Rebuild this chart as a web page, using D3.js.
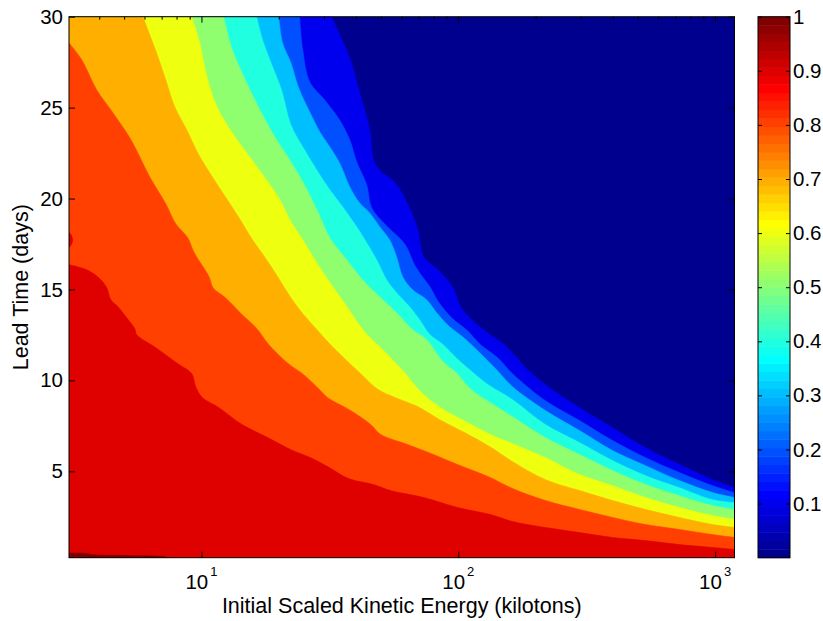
<!DOCTYPE html>
<html><head><meta charset="utf-8">
<script src="https://cdn.jsdelivr.net/npm/d3@7"></script>
<style>
html,body{margin:0;padding:0;background:#fff;}
svg{display:block;font-family:"Liberation Sans",Arial,Helvetica,sans-serif;}
</style></head><body>
<svg id="chart" width="823" height="621"></svg>
<script>
// ---------------- DATA ----------------
// Axis ticks
const energyTickValues = [10, 100, 1000];
const energyTickExponents = ["1", "2", "3"];
const energyMinorTicks = [4,5,6,7,8,9,20,30,40,50,60,70,80,90,200,300,400,500,600,700,800,900];
const leadTickValues = [5, 10, 15, 20, 25, 30];
const colorTickValues = [0.1,0.2,0.3,0.4,0.5,0.6,0.7,0.8,0.9,1];
const energyDomain = [3.05, 1190];
const leadDomain = [0.25, 30];
const colorDomain = [0, 1];

// Contour levels and their boundaries: [energy (kilotons), lead time (days)]
const contourLevels = [0.1,0.2,0.3,0.4,0.5,0.6,0.7,0.8,0.9,1.0];

const level01 = [[32.1,30],[34.8,28.9],[38.1,27.6],[41.3,25.8],[45.2,23.8],[46.8,22.1],[49.9,21.5],[56.5,20.9],[63.5,19.7],[69.5,18.3],[73.3,16.8],[83.1,16.1],[95.0,15.15],[102.1,14.05],[112.7,13.34],[133.6,12.5],[150,12.0],[162.5,11.5],[182.7,10.7],[218.6,9.76],[296.6,8.5],[398.7,7.4],[536,6.3],[726,5.37],[977,4.54],[1190,4.1]];
const level02 = [[24.1,30],[24.8,28.17],[26.4,26.41],[30.2,25.42],[34.5,24.32],[37.8,23.23],[40.2,22.02],[44.0,20.75],[46.0,19.49],[52.1,18.55],[61.8,17.51],[68.2,16.25],[78.0,15.09],[83.1,14.38],[94.2,13.45],[108.7,12.73],[122.1,11.96],[142.2,11.25],[162.5,10.37],[218.6,8.88],[296.6,7.79],[398.7,6.69],[536,5.75],[726,4.93],[977,4.21],[1190,3.83]];
const level03 = [[20.0,30],[20.7,28.55],[22.3,27.46],[23.9,26.08],[26.4,24.76],[28.9,23.66],[31.6,22.84],[34.5,21.96],[37.8,20.64],[41.3,19.76],[45.2,19.21],[49.4,18.45],[54.0,17.73],[57.5,16.80],[60.7,15.70],[66.4,14.98],[75.3,14.43],[82.3,13.72],[92.5,12.95],[103.9,12.40],[117.8,11.69],[132.4,10.97],[140.9,10.59],[162.7,9.65],[218.6,8.34],[296.6,7.24],[398.7,6.14],[536,5.31],[726,4.49],[977,3.83],[1190,3.56]];
const level04 = [[16.4,30],[17.3,28.72],[18.8,27.35],[20.5,25.97],[22.3,24.05],[25.2,22.68],[28.4,21.47],[31.6,20.48],[35.5,19.54],[40.2,18.45],[44.0,17.57],[48.1,16.63],[52.6,15.53],[57.5,14.82],[64.6,14.05],[70.7,13.34],[77.3,12.54],[86.9,11.99],[98.5,11.22],[110.7,10.59],[130.0,9.79],[162.7,8.94],[218.6,7.57],[296.6,6.58],[398.7,5.59],[536,4.76],[726,4.10],[977,3.44],[1190,3.28]];
const level05 = [[12.2,30],[13.2,28.17],[15.0,26.36],[16.9,24.87],[18.9,23.61],[22.3,22.02],[25.2,20.75],[28.4,19.27],[31.6,17.84],[36.8,16.63],[42.4,15.53],[49.4,14.60],[57.5,13.72],[66.4,12.79],[75.3,12.24],[86.9,11.05],[98.5,10.40],[111.7,9.52],[137.3,8.66],[162.7,8.0],[218.6,6.85],[296.6,5.92],[398.7,5.04],[536,4.27],[726,3.66],[977,3.12],[1190,2.90]];
const level06 = [[9.17,30],[9.85,28.55],[10.5,26.69],[11.5,25.04],[13.2,23.61],[15.4,22.29],[17.9,21.03],[20.2,19.93],[22.3,18.72],[24.8,17.73],[28.1,16.47],[32.7,15.09],[37.1,13.99],[42.8,12.73],[51.7,11.58],[61.3,10.48],[72.0,9.32],[85.3,8.50],[104.9,7.79],[133.6,7.02],[162.7,6.52],[218.6,5.75],[296.6,4.82],[398.7,4.21],[536,3.56],[726,3.01],[977,2.57],[1190,2.35]];
const level07 = [[5.91,30],[6.58,28.28],[7.20,26.69],[7.87,25.04],[8.77,23.77],[9.67,22.51],[10.9,21.30],[12.4,20.09],[14.1,18.88],[15.8,17.73],[17.6,16.80],[19.8,15.70],[22.3,14.54],[25.0,13.61],[28.4,12.73],[31.8,11.96],[35.8,11.25],[41.7,10.37],[48.5,9.52],[57.0,9.05],[69.4,8.56],[84.6,7.84],[105.8,7.13],[132.4,6.36],[162.7,5.53],[218.6,4.54],[296.6,3.94],[398.7,3.39],[536,2.90],[726,2.46],[977,2.07],[1190,1.91]];
const level08 = [[3.05,28.55],[3.42,27.62],[3.91,25.97],[4.44,24.87],[5.26,23.34],[5.75,22.29],[6.29,21.19],[7.26,19.71],[7.94,18.61],[8.84,17.84],[9.33,17.07],[10.7,15.70],[11.1,15.09],[12.4,14.54],[14.4,13.61],[16.3,12.90],[18.3,11.96],[20.5,11.25],[22.3,10.81],[25.0,10.31],[29.1,9.43],[31.0,9.05],[38.1,8.34],[45.6,7.57],[49.9,7.02],[63.5,6.47],[80.1,5.92],[99.4,5.37],[133.6,4.65],[162.7,4.05],[218.6,3.39],[296.6,2.90],[398.7,2.46],[536,2.07],[726,1.80],[977,1.52],[1190,1.36]];
const level09 = [[3.05,16.36],[3.58,16.08],[4.02,15.59],[4.28,15.09],[4.44,14.43],[4.77,14.0],[5.08,13.50],[5.50,12.84],[5.60,12.51],[6.64,11.80],[8.09,10.92],[9.17,10.37],[9.50,9.65],[10.1,9.05],[11.7,8.50],[14.4,7.57],[17.8,6.91],[22.3,6.19],[26.6,5.75],[31.0,5.26],[37.4,4.60],[46.8,4.27],[54.5,3.94],[73.3,3.56],[99.4,3.01],[133.6,2.62],[162.7,2.24],[218.6,1.91],[296.6,1.63],[398.7,1.36],[536,1.19],[726,0.97],[977,0.81],[1190,0.70]];
const level09Island = [[3.05,18.17],[3.13,17.95],[3.16,17.68],[3.10,17.40],[3.05,17.29]];
const level10 = [[3.05,0.50],[3.61,0.48],[3.74,0.42],[5.03,0.37],[7.20,0.30],[7.33,0.25]];

const contourBoundaries = [level01, level02, level03, level04, level05, level06, level07, level08, level09, level10];

// ---------------- LAYOUT ----------------
const plot = {left: 69, right: 734.5, top: 16.7, bottom: 557.7};
const cbar = {left: 758, right: 790, top: 16.7, bottom: 557.7};
const tickFont = 20.5, labelFont = 21.5;

const svg = d3.select("#chart");
const x = d3.scaleLog().domain(energyDomain).range([plot.left, plot.right]);
const y = d3.scaleLinear().domain(leadDomain).range([plot.bottom, plot.top]);
const c = d3.scaleLinear().domain(colorDomain).range([cbar.bottom, cbar.top]);

// MATLAB jet(64), 0-based index
function jet64(i) {
  const u = k => (k >= 1 && k <= 16) ? k / 16 : (k >= 17 && k <= 31) ? 1 : (k >= 32 && k <= 47) ? (48 - k) / 16 : 0;
  const j = i + 1;
  return d3.rgb(Math.round(u(j - 24) * 255), Math.round(u(j - 8) * 255), Math.round(u(j + 8) * 255)).formatHex();
}
const levelColor = v => jet64(Math.max(0, Math.min(63, Math.floor(v * 64 + 1e-9))));

// ---------------- CONTOUR FILL ----------------
svg.append("defs").append("clipPath").attr("id", "plotclip")
  .append("rect").attr("x", plot.left).attr("y", plot.top)
  .attr("width", plot.right - plot.left).attr("height", plot.bottom - plot.top);

const gPlot = svg.append("g").attr("clip-path", "url(#plotclip)");
gPlot.append("rect").attr("x", plot.left).attr("y", plot.top)
  .attr("width", plot.right - plot.left).attr("height", plot.bottom - plot.top)
  .attr("fill", levelColor(0));

const [eMin, eMax] = energyDomain, [tMin, tMax] = leadDomain;
function cornersFor(pts) {
  const corners = [];
  const last = pts[pts.length - 1], first = pts[0];
  if (last[0] >= eMax * 0.999) corners.push([eMax, tMin]);
  corners.push([eMin, tMin]);
  if (first[1] >= tMax - 1e-6 && first[0] > eMin) corners.push([eMin, tMax]);
  return corners;
}
const smoothLine = d3.line().x(d => x(d[0])).y(d => y(d[1])).curve(d3.curveCatmullRom.alpha(0.5));
const regionPath = pts => smoothLine(pts) + cornersFor(pts).map(p => `L${x(p[0])},${y(p[1])}`).join("") + "Z";

contourLevels.forEach((lv, i) => {
  gPlot.append("path").attr("d", regionPath(contourBoundaries[i]))
    .attr("fill", levelColor(lv)).attr("stroke", levelColor(lv)).attr("stroke-width", 0.6);
  if (lv === 0.9) {
    gPlot.append("path").attr("d", smoothLine(level09Island) + "Z").attr("fill", levelColor(lv));
  }
});

// ---------------- AXES ----------------
const axisColor = "#000";
function styleAxis(g) {
  g.select(".domain").remove();
  g.selectAll(".tick line").attr("stroke", axisColor);
  g.selectAll(".tick text").attr("fill", axisColor).attr("font-size", tickFont)
    .attr("font-family", '"Liberation Sans",Arial,sans-serif');
}

// Left y axis
svg.append("g").attr("transform", `translate(${plot.left},0)`)
  .call(d3.axisLeft(y).tickValues(leadTickValues).tickSize(-6).tickPadding(6).tickFormat(d3.format("d")))
  .call(styleAxis);
// Right y axis (ticks only)
svg.append("g").attr("transform", `translate(${plot.right},0)`)
  .call(d3.axisRight(y).tickValues(leadTickValues).tickSize(-6).tickFormat(""))
  .call(styleAxis);
// Bottom x axis major ticks
svg.append("g").attr("transform", `translate(0,${plot.bottom})`)
  .call(d3.axisBottom(x).tickValues(energyTickValues).tickSize(-6).tickFormat(""))
  .call(styleAxis);
// Top x axis major + minor
svg.append("g").attr("transform", `translate(0,${plot.top})`)
  .call(d3.axisTop(x).tickValues(energyTickValues).tickSize(-6).tickFormat(""))
  .call(styleAxis);
svg.append("g").attr("transform", `translate(0,${plot.top})`)
  .call(d3.axisTop(x).tickValues(energyMinorTicks).tickSize(-3).tickFormat(""))
  .call(styleAxis);

// x tick labels with superscripts
energyTickValues.forEach((v, i) => {
  const t = svg.append("text").attr("x", x(v)).attr("y", 589)
    .attr("text-anchor", "middle").attr("font-size", tickFont).attr("fill", axisColor);
  t.append("tspan").text("10");
  t.append("tspan").attr("font-size", 13).attr("dx", 2).attr("dy", -13).text(energyTickExponents[i]);
});

// Frame
svg.append("rect").attr("x", plot.left).attr("y", plot.top)
  .attr("width", plot.right - plot.left).attr("height", plot.bottom - plot.top)
  .attr("fill", "none").attr("stroke", axisColor).attr("stroke-width", 1);

// Axis labels
svg.append("text").attr("x", (plot.left + plot.right) / 2).attr("y", 613)
  .attr("text-anchor", "middle").attr("font-size", labelFont).attr("fill", axisColor)
  .text("Initial Scaled Kinetic Energy (kilotons)");
svg.append("text").attr("transform", `translate(28,${(plot.top + plot.bottom) / 2}) rotate(-90)`)
  .attr("text-anchor", "middle").attr("font-size", labelFont).attr("fill", axisColor)
  .text("Lead Time (days)");

// ---------------- COLORBAR ----------------
const nColors = 64;
const bandIdx = d3.range(nColors);
svg.append("g").selectAll("rect").data(bandIdx).join("rect")
  .attr("x", cbar.left).attr("width", cbar.right - cbar.left)
  .attr("y", i => c((i + 1) / nColors))
  .attr("height", i => c(i / nColors) - c((i + 1) / nColors) + 0.5)
  .attr("fill", i => jet64(i));
svg.append("rect").attr("x", cbar.left).attr("y", cbar.top)
  .attr("width", cbar.right - cbar.left).attr("height", cbar.bottom - cbar.top)
  .attr("fill", "none").attr("stroke", axisColor).attr("stroke-width", 1);
svg.append("g").attr("transform", `translate(${cbar.right},0)`)
  .call(d3.axisRight(c).tickValues(colorTickValues).tickSize(-4).tickPadding(7)
    .tickFormat(v => v === 1 ? "1" : v.toFixed(1)))
  .call(styleAxis)
  .call(g => g.selectAll(".tick text").attr("x", 3));
svg.append("g").attr("transform", `translate(${cbar.left},0)`)
  .call(d3.axisLeft(c).tickValues(colorTickValues).tickSize(-4).tickFormat(""))
  .call(styleAxis);
</script>
</body></html>
